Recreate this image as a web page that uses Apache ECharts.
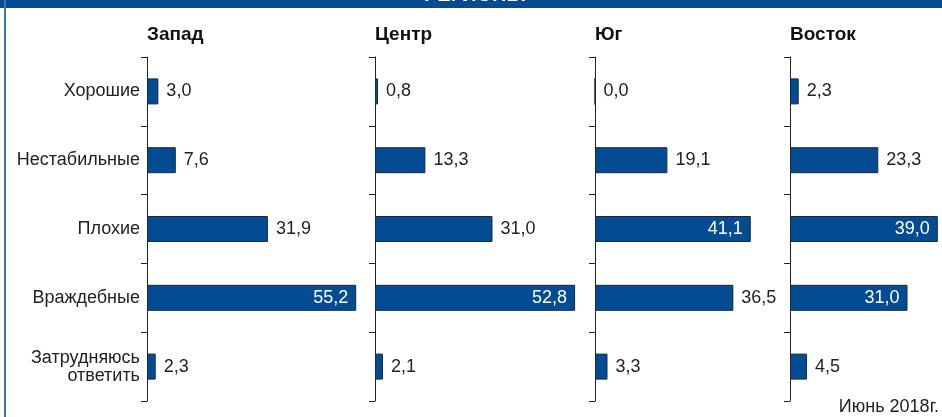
<!DOCTYPE html>
<html>
<head>
<meta charset="utf-8">
<script src="https://cdn.jsdelivr.net/npm/echarts@6/dist/echarts.min.js"></script>
<style>
  html, body { margin: 0; padding: 0; background: #fff; }
  #chart { width: 942px; height: 417px; }
</style>
</head>
<body>
<div id="chart"></div>
<script>
var categories = ['Хорошие', 'Нестабильные', 'Плохие', 'Враждебные', 'Затрудняюсь\nответить'];
var regions = ['Запад', 'Центр', 'Юг', 'Восток'];
var zapad = [3.0, 7.6, 31.9, 55.2, 2.3];
var centr = [0.8, 13.3, 31.0, 52.8, 2.1];
var yug = [0.0, 19.1, 41.1, 36.5, 3.3];
var vostok = [2.3, 23.3, 39.0, 31.0, 4.5];
var regionValues = [zapad, centr, yug, vostok];
var axisMax = [60, 55, 50, 40];

var FONT = 'Liberation Sans';
var BLUE = '#034b93';
var pxPerUnit = 3.79;
var lefts = [147, 375, 595, 790];
var panelEnd = [372, 592, 787, 942];
var top0 = 57, h = 344;

var chart = echarts.init(document.getElementById('chart'));

var grids = [], xAxes = [], yAxes = [], series = [];
regions.forEach(function (name, i) {
  grids.push({ left: lefts[i], top: top0, width: axisMax[i] * pxPerUnit, height: h });
  xAxes.push({ gridIndex: i, type: 'value', min: 0, max: axisMax[i], show: false });
  yAxes.push({
    gridIndex: i, type: 'category', data: categories, inverse: true,
    axisLine: { show: true, lineStyle: { color: '#222', width: 1 } },
    axisTick: { show: true, length: 6, lineStyle: { color: '#222' } },
    axisLabel: {
      show: i === 0, margin: 7, color: '#222', fontFamily: FONT, fontSize: 18,
      align: 'right', lineHeight: 18
    },
    splitLine: { show: false }
  });
  var room = panelEnd[i] - lefts[i];
  series.push({
    type: 'bar', xAxisIndex: i, yAxisIndex: i, barWidth: 26,
    itemStyle: { color: BLUE, borderColor: '#1a2a3a', borderWidth: 1 },
    data: regionValues[i].map(function (v) {
      var inside = v * pxPerUnit + 48 > room;
      return {
        value: v,
        label: {
          show: true,
          position: inside ? 'insideRight' : 'right',
          distance: 8,
          color: inside ? '#fff' : '#222',
          fontFamily: FONT, fontSize: 18,
          formatter: function (p) { return p.value.toFixed(1).replace('.', ','); }
        }
      };
    })
  });
});

var titles = regions.map(function (name, i) {
  return {
    type: 'text', left: lefts[i], top: 25,
    style: { text: name, fontFamily: FONT, fontSize: 19, fontWeight: 'bold', fill: '#111' }
  };
});

chart.setOption({
  animation: false,
  grid: grids,
  xAxis: xAxes,
  yAxis: yAxes,
  series: series,
  graphic: [
    { type: 'rect', shape: { x: 0, y: 0, width: 942, height: 8 }, style: { fill: '#034b93' } },
    { type: 'rect', shape: { x: 4, y: 0, width: 2, height: 417 }, style: { fill: '#3d72b4' } },
    {
      type: 'text', x: 475, y: 5,
      style: { text: 'РЕГИОНЫ', fontFamily: FONT, fontSize: 20, fontWeight: 'bold', fill: '#fff',
               textAlign: 'center', textVerticalAlign: 'bottom' }
    },
    {
      type: 'text', right: 3, top: 398,
      style: { text: 'Июнь 2018г.', fontFamily: FONT, fontSize: 18, fill: '#222' }
    }
  ].concat(titles)
});
</script>
</body>
</html>
